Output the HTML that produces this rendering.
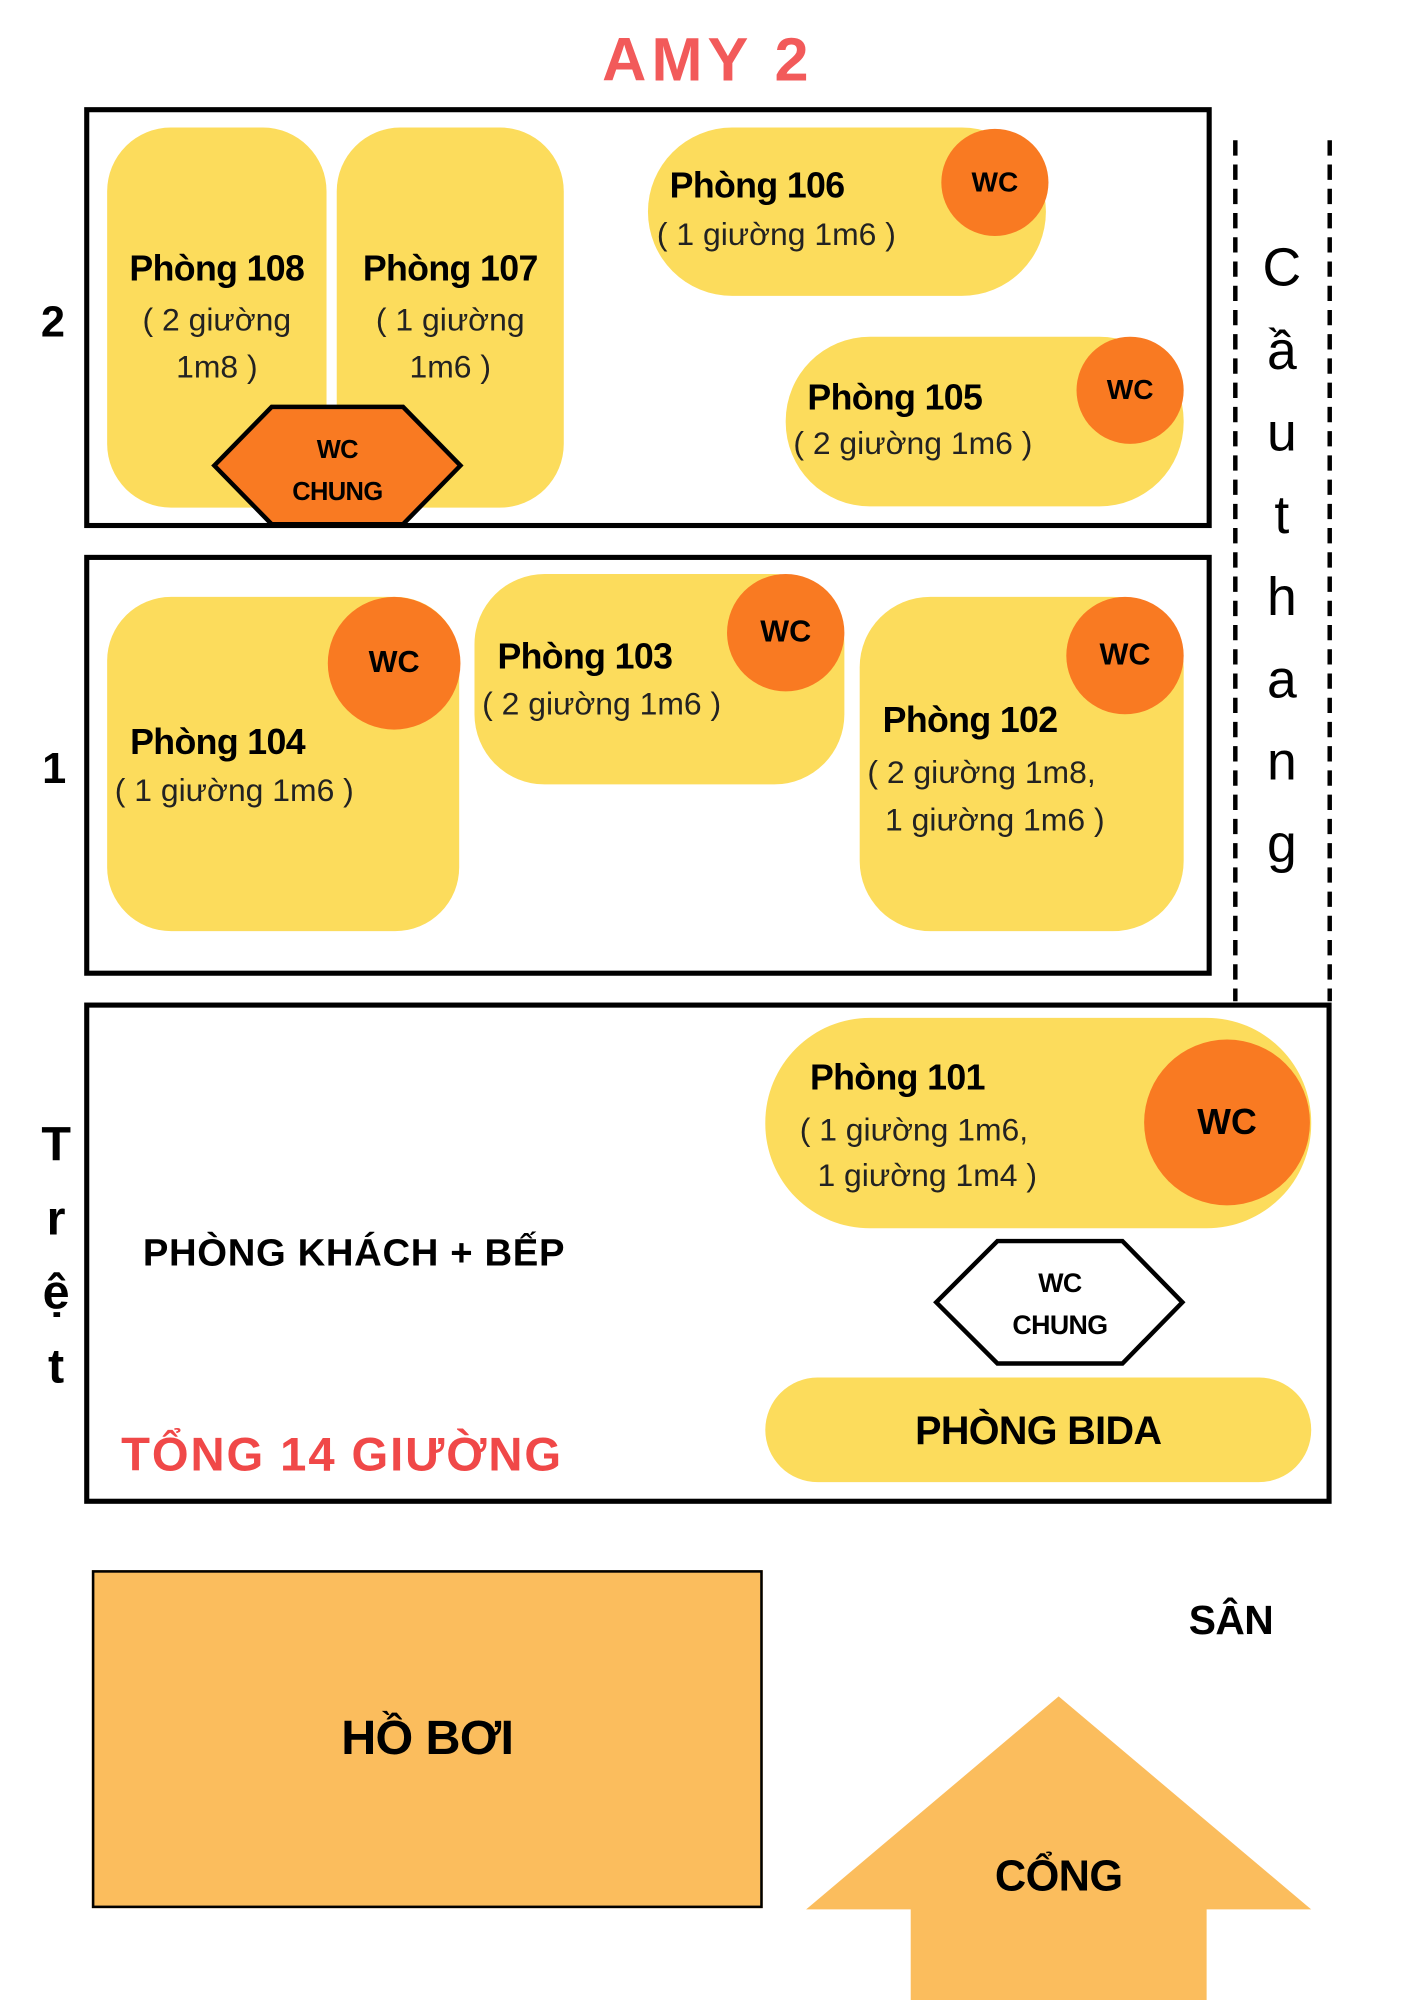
<!DOCTYPE html>
<html><head><meta charset="utf-8"><style>
html,body{margin:0;padding:0;background:#fff;width:1414px;height:2000px;overflow:hidden}
#c{position:absolute;left:0;top:0;width:1109px;height:1568px;transform:scale(1.2755,1.2755);transform-origin:0 0;font-family:"Liberation Sans",sans-serif;color:#000}
.a{position:absolute}
.box{position:absolute;border:4px solid #000;box-sizing:border-box}
.y{position:absolute;background:#fcdc5c}
.o{position:absolute;background:#f97a22;border-radius:50%;display:flex;align-items:center;justify-content:center;font-weight:900;font-size:24px}
.t{position:absolute;font-weight:bold;font-size:28px;white-space:nowrap;letter-spacing:-0.5px}
.s{position:absolute;font-size:25px;white-space:nowrap;color:#222}
.c{text-align:center}
</style></head><body><div id="c">
<div class="t c" style="left:455px;top:20px;width:200px;font-size:48px;color:#f25a5a;font-weight:900;letter-spacing:4px">AMY 2</div>

<div class="box" style="left:66px;top:84px;width:884px;height:330px"></div>
<div class="box" style="left:66px;top:435px;width:884px;height:330px"></div>
<div class="box" style="left:66px;top:786px;width:978px;height:393px"></div>

<svg class="a" style="left:0;top:0" width="1109" height="1568">
<line x1="968.5" y1="110" x2="968.5" y2="785" stroke="#000" stroke-width="3.5" stroke-dasharray="12,7"/>
<line x1="1042.5" y1="110" x2="1042.5" y2="785" stroke="#000" stroke-width="3.5" stroke-dasharray="12,7"/>
</svg>
<div class="a c" style="left:985px;top:178px;width:40px;font-size:42px;line-height:64.5px">C<br>ầ<br>u<br>t<br>h<br>a<br>n<br>g</div>

<div class="t" style="left:32px;top:234px;font-size:34px;font-weight:900">2</div>
<div class="t" style="left:33px;top:584px;font-size:34px;font-weight:900">1</div>
<div class="a c" style="left:28px;top:869px;width:32px;font-size:38px;font-weight:900;line-height:58px">T<br>r<br>ệ<br>t</div>

<!-- floor 2 -->
<div class="y" style="left:84px;top:100px;width:172px;height:298px;border-radius:50px"></div>
<div class="y" style="left:264px;top:100px;width:178px;height:298px;border-radius:50px"></div>
<div class="t c" style="left:84px;top:195px;width:172px">Phòng 108</div>
<div class="s c" style="left:84px;top:233px;width:172px;line-height:37px">( 2 giường<br>1m8 )</div>
<div class="t c" style="left:264px;top:195px;width:178px">Phòng 107</div>
<div class="s c" style="left:264px;top:233px;width:178px;line-height:37px">( 1 giường<br>1m6 )</div>
<svg class="a" style="left:0;top:0" width="1109" height="1568">
<polygon points="168,365 213,319 316,319 361,365 316,411 213,411" fill="#f97a22" stroke="#000" stroke-width="3.5"/>
<polygon points="734,1021 782,973 880,973 927,1021 880,1069 782,1069" fill="#fff" stroke="#000" stroke-width="3.5"/>
<polygon points="830,1330 1028,1497 946,1497 946,1568 714,1568 714,1497 632,1497" fill="#fbbd5d"/>
</svg>
<div class="t c" style="left:213px;top:337px;width:103px;font-size:20px;line-height:33px;font-weight:900">WC<br>CHUNG</div>

<div class="y" style="left:508px;top:100px;width:312px;height:132px;border-radius:66px"></div>
<div class="o" style="left:738px;top:101px;width:84px;height:84px;font-size:22px">WC</div>
<div class="t" style="left:525px;top:130px">Phòng 106</div>
<div class="s" style="left:515px;top:170px">( 1 giường 1m6 )</div>

<div class="y" style="left:616px;top:264px;width:312px;height:133px;border-radius:66px"></div>
<div class="o" style="left:844px;top:264px;width:84px;height:84px;font-size:22px">WC</div>
<div class="t" style="left:633px;top:296px">Phòng 105</div>
<div class="s" style="left:622px;top:334px">( 2 giường 1m6 )</div>

<!-- floor 1 -->
<div class="y" style="left:84px;top:468px;width:276px;height:262px;border-radius:50px"></div>
<div class="o" style="left:257px;top:468px;width:104px;height:104px">WC</div>
<div class="t" style="left:102px;top:566px">Phòng 104</div>
<div class="s" style="left:90px;top:606px">( 1 giường 1m6 )</div>

<div class="y" style="left:372px;top:450px;width:290px;height:165px;border-radius:55px"></div>
<div class="o" style="left:570px;top:450px;width:92px;height:92px">WC</div>
<div class="t" style="left:390px;top:499px">Phòng 103</div>
<div class="s" style="left:378px;top:538px">( 2 giường 1m6 )</div>

<div class="y" style="left:674px;top:468px;width:254px;height:262px;border-radius:55px"></div>
<div class="o" style="left:836px;top:468px;width:92px;height:92px">WC</div>
<div class="t" style="left:692px;top:549px">Phòng 102</div>
<div class="s" style="left:680px;top:588px;line-height:37px">( 2 giường 1m8,<br>&nbsp;&nbsp;1 giường 1m6 )</div>

<!-- ground -->
<div class="y" style="left:600px;top:798px;width:428px;height:165px;border-radius:82px"></div>
<div class="o" style="left:897px;top:815px;width:130px;height:130px;font-size:28px">WC</div>
<div class="t" style="left:635px;top:829px">Phòng 101</div>
<div class="s" style="left:627px;top:868px;line-height:36px">( 1 giường 1m6,<br>&nbsp;&nbsp;1 giường 1m4 )</div>
<div class="t c" style="left:782px;top:990px;width:98px;font-size:21px;line-height:33px;font-weight:900">WC<br>CHUNG</div>
<div class="y" style="left:600px;top:1080px;width:428px;height:82px;border-radius:41px"></div>
<div class="t c" style="left:600px;top:1104px;width:428px;font-size:31px;font-weight:900">PHÒNG BIDA</div>
<div class="t" style="left:112px;top:966px;font-size:30px;font-weight:900;letter-spacing:0.5px">PHÒNG KHÁCH + BẾP</div>
<div class="t" style="left:95px;top:1120px;font-size:37px;font-weight:900;color:#f04848;letter-spacing:1.5px">TỔNG 14 GIƯỜNG</div>

<div class="a" style="left:72px;top:1231px;width:526px;height:265px;background:#fbbd5d;border:2px solid #000;box-sizing:border-box"></div>
<div class="t c" style="left:72px;top:1342px;width:526px;font-size:38px;font-weight:900">HỒ BƠI</div>
<div class="t" style="left:932px;top:1252px;font-size:32px;font-weight:900">SÂN</div>
<div class="t c" style="left:730px;top:1452px;width:200px;font-size:34px;font-weight:900">CỔNG</div>
</div></body></html>
